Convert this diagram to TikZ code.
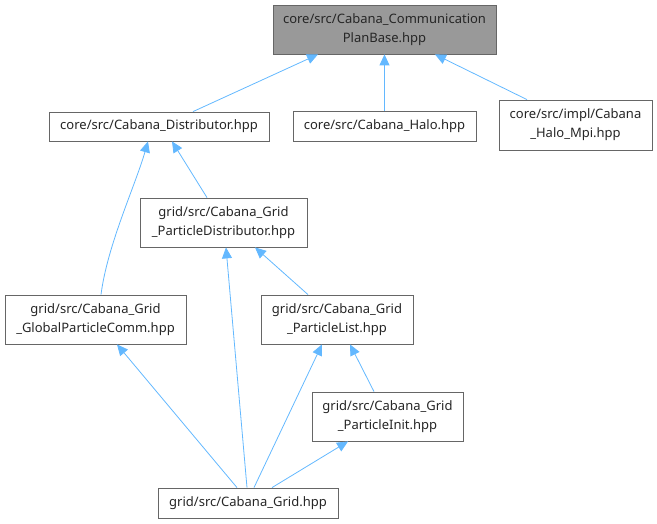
\documentclass[tikz,border=0pt]{standalone}
\usepackage{fontspec}
\setmainfont{Noto Sans}
\usetikzlibrary{arrows.meta}
\definecolor{edgeblue}{HTML}{63B8FF}
\definecolor{boxgray}{HTML}{999999}
\definecolor{framegray}{HTML}{666666}
\begin{document}
\begin{tikzpicture}[x=1pt,y=-1pt,
    file/.style={rectangle,draw=framegray,thick,fill=white,align=center,inner sep=0pt,
      font=\fontsize{13}{19}\selectfont,text=black!85},
    dep/.style={draw=edgeblue,thick,-{Triangle[length=11pt,width=10pt]}}]
  \useasboundingbox (0,0) rectangle (657,524);
  \node[file,fill=boxgray,minimum width=223,minimum height=49] (plan) at (384.5,29.5) {core/src/Cabana\_Communication\\PlanBase.hpp};
  \node[file,minimum width=220,minimum height=29] (dist) at (159,126.5) {core/src/Cabana\_Distributor.hpp};
  \node[file,minimum width=183,minimum height=30] (halo) at (384.5,126) {core/src/Cabana\_Halo.hpp};
  \node[file,minimum width=153,minimum height=50] (halompi) at (575.5,125) {core/src/impl/Cabana\\\_Halo\_Mpi.hpp};
  \node[file,minimum width=167,minimum height=49] (pdist) at (223.5,222.5) {grid/src/Cabana\_Grid\\\_ParticleDistributor.hpp};
  \node[file,minimum width=181,minimum height=49] (gcomm) at (95.5,319.5) {grid/src/Cabana\_Grid\\\_GlobalParticleComm.hpp};
  \node[file,minimum width=152,minimum height=49] (plist) at (337,319.5) {grid/src/Cabana\_Grid\\\_ParticleList.hpp};
  \node[file,minimum width=151,minimum height=49] (pinit) at (387.5,416.5) {grid/src/Cabana\_Grid\\\_ParticleInit.hpp};
  \node[file,minimum width=180,minimum height=30] (grid) at (248,503) {grid/src/Cabana\_Grid.hpp};
  % includes
  \draw[dep] ([xshift=34]dist.north) -- ([xshift=-66.5]plan.south);
  \draw[dep] (halo.north) -- (plan.south);
  \draw[dep] ([xshift=-48.5]halompi.north) -- ([xshift=50.5]plan.south);
  \draw[dep] ([xshift=-16.5]pdist.north) -- ([xshift=13]dist.south);
  \draw[dep] ([xshift=5.5]gcomm.north) .. controls ([xshift=12,yshift=50]gcomm.north) and ([xshift=-24,yshift=-45]dist.south) .. ([xshift=-11]dist.south);
  \draw[dep] ([xshift=-1]grid.north) -- ([xshift=2.5]pdist.south);
  \draw[dep] ([xshift=-29]plist.north) -- ([xshift=31.5]pdist.south);
  \draw[dep] ([xshift=-11]grid.north) -- ([xshift=21.5]gcomm.south);
  \draw[dep] ([xshift=6]grid.north) -- ([xshift=-15]plist.south);
  \draw[dep] ([xshift=-13.5]pinit.north) -- ([xshift=13]plist.south);
  \draw[dep] ([xshift=24]grid.north) -- ([xshift=-39.5]pinit.south);
\end{tikzpicture}
\end{document}
